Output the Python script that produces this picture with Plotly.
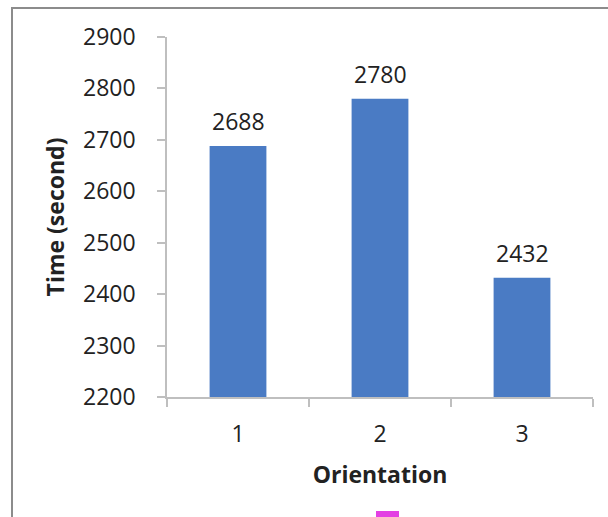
import plotly.graph_objects as go

# Run time for each orientation
orientations = ["1", "2", "3"]
times = [2688, 2780, 2432]
y_ticks = [2200, 2300, 2400, 2500, 2600, 2700, 2800, 2900]

bar_color = "#4a7bc4"
axis_color = "#bfbfbf"
text_color = "#222222"
font_family = "Open Sans, DejaVu Sans, sans-serif"
font_size = 23

fig = go.Figure(
    go.Bar(
        x=orientations,
        y=times,
        marker=dict(color=bar_color, line=dict(width=0)),
        width=0.4,
        hoverinfo="x+y",
    )
)

# value labels above each bar (category axis: x is the category index)
for idx, val in enumerate(times):
    fig.add_annotation(
        x=idx, y=val, text=str(val), showarrow=False,
        yanchor="middle", yshift=25,
        font=dict(size=font_size, color=text_color, family=font_family),
    )

fig.update_layout(
    width=608,
    height=517,
    margin=dict(l=167, r=15, t=37, b=120),
    paper_bgcolor="white",
    plot_bgcolor="white",
    showlegend=False,
    font=dict(family=font_family, color=text_color, size=font_size),
    xaxis=dict(
        type="category",
        range=[-0.5, 2.5],
        showline=True,
        linecolor=axis_color,
        linewidth=1.5,
        ticks="outside",
        tickson="boundaries",
        ticklen=8,
        tickcolor=axis_color,
        tickwidth=1.5,
        showgrid=False,
        ticklabelstandoff=16,
        tickfont=dict(size=font_size, color=text_color),
        title=dict(text="<b>Orientation</b>", font=dict(size=font_size, color=text_color), standoff=19),
    ),
    yaxis=dict(
        range=[2200, 2900],
        tickvals=y_ticks,
        showline=True,
        linecolor=axis_color,
        linewidth=1.5,
        ticks="outside",
        ticklen=8,
        tickcolor=axis_color,
        tickwidth=1.5,
        showgrid=False,
        zeroline=False,
        ticklabelstandoff=17,
        tickfont=dict(size=font_size, color=text_color),
        title=dict(text="<b>Time (second)</b>", font=dict(size=font_size, color=text_color), standoff=12),
    ),
    shapes=[
        # chart frame
        dict(type="rect", xref="paper", yref="paper",
             x0=(12 - 167) / 426, x1=1.2, y0=-0.5, y1=(397 - 8) / 360,
             line=dict(color="#8c8c8c", width=2), fillcolor="rgba(0,0,0,0)", layer="below"),
        # selection handle
        dict(type="rect", xref="paper", yref="paper",
             x0=(376 - 167) / 426, x1=(399 - 167) / 426,
             y0=(397 - 525) / 360, y1=(397 - 511) / 360,
             line=dict(width=0), fillcolor="#e340e3"),
    ],
)

fig.write_html("out.html")
